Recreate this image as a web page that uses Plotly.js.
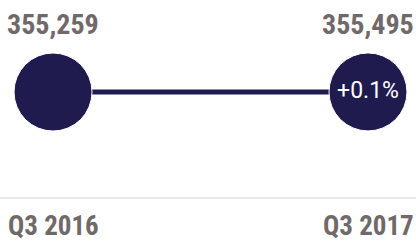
<!DOCTYPE html>
<html><head><meta charset="utf-8">
<script src="https://cdn.plot.ly/plotly-3.0.1.min.js"></script>
<style>html,body{margin:0;padding:0;background:#fff}#chart{width:416px;height:244px}</style>
</head><body><div id="chart"></div>
<script>
const periods = ["Q3 2016", "Q3 2017"];
const values = [355259, 355495];

const xs = [0, 1];
const pct = (values[1] - values[0]) / values[0] * 100;
const pctText = (pct >= 0 ? "+" : "") + pct.toFixed(1) + "%";
const fmt = v => v.toLocaleString("en-US");
const LABEL_FONT = "'Liberation Sans Narrow', 'Roboto Condensed', Roboto, sans-serif";
const PCT_FONT = "Roboto, 'Liberation Sans', sans-serif";
const NAVY = "#1f1b4f";
const GREY = "#716869";

const traces = [
  { x: xs, y: values, type: "scatter", mode: "lines",
    line: { color: NAVY, width: 5 }, hoverinfo: "skip" },
  { x: xs, y: values, type: "scatter", mode: "markers+text",
    marker: { size: 78, color: NAVY, line: { color: "#ffffff", width: 1 } },
    text: ["", pctText], textposition: "middle center",
    textfont: { family: PCT_FONT, size: 23, color: "#ffffff" }, hoverinfo: "skip" }
];

const annotations = [];
xs.forEach((x, i) => {
  annotations.push({ x: x, y: 0.9, xref: "x", yref: "paper", text: fmt(values[i]),
    showarrow: false, font: { family: LABEL_FONT, size: 28, color: GREY, weight: "bold" }, xanchor: "center", yanchor: "middle" });
  annotations.push({ x: x, y: 0.074, xref: "x", yref: "paper", text: periods[i],
    showarrow: false, font: { family: LABEL_FONT, size: 27, color: GREY, weight: "bold" }, xanchor: "center", yanchor: "middle" });
});

const layout = {
  width: 416, height: 244,
  margin: { l: 0, r: 0, t: 0, b: 0 },
  paper_bgcolor: "#fff", plot_bgcolor: "#fff",
  showlegend: false,
  xaxis: { range: [-0.1683, 1.1524], visible: false, fixedrange: true },
  yaxis: { range: [0, 570400], visible: false, fixedrange: true },
  annotations: annotations,
  shapes: [{ type: "line", xref: "paper", yref: "paper", x0: 0, x1: 1, y0: 46/244, y1: 46/244,
    line: { color: "#e8e8e8", width: 2 } }]
};

Plotly.newPlot("chart", traces, layout, { displayModeBar: false, staticPlot: true });
</script></body></html>
